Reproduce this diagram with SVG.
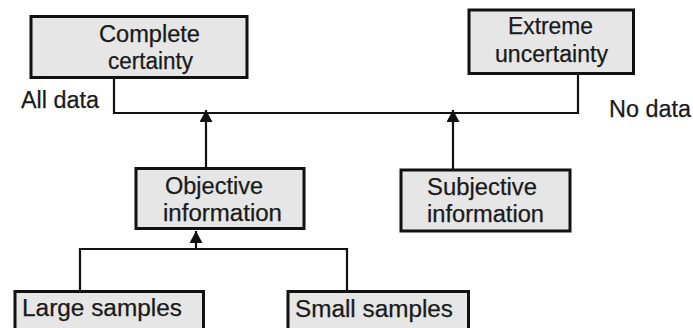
<svg xmlns="http://www.w3.org/2000/svg" width="693" height="328" viewBox="0 0 693 328">
<style>
.box{fill:#e6e6e6;stroke:#111;stroke-width:3}
.t{font-family:"Liberation Sans",Arial,sans-serif;font-size:23px;fill:#1a1a1a;stroke:#1a1a1a;stroke-width:0.25}
.c{fill:none;stroke:#111;stroke-width:2.2}
</style>
<defs>
<marker id="arr" markerUnits="userSpaceOnUse" markerWidth="12" markerHeight="13" refX="12" refY="6.5" orient="auto">
<path d="M0,0 L12,6.5 L0,13 z" fill="#111"/>
</marker>
</defs>
<rect width="693" height="328" fill="#fff"/>
<g id="connectors">
<polyline class="c" points="114,78 114,113 578,113 578,74"/>
<line class="c" x1="206" y1="168" x2="206" y2="110" marker-end="url(#arr)"/>
<line class="c" x1="453" y1="169" x2="453" y2="110" marker-end="url(#arr)"/>
<polyline class="c" points="80,291 80,249 347,249 347,291"/>
<line class="c" x1="196" y1="249" x2="196" y2="231" marker-end="url(#arr)"/>
</g>
<g id="complete">
<rect class="box" x="31" y="16.5" width="216" height="61"/>
<text class="t" x="99" y="41.5" textLength="101" lengthAdjust="spacingAndGlyphs">Complete</text>
<text class="t" x="108" y="69" textLength="85" lengthAdjust="spacingAndGlyphs">certainty</text>
</g>
<g id="alldata">
<text class="t" x="21" y="108" textLength="78" lengthAdjust="spacingAndGlyphs">All data</text>
</g>
<g id="extreme">
<rect class="box" x="469" y="10" width="164.5" height="63.5"/>
<text class="t" x="508" y="34" textLength="85" lengthAdjust="spacingAndGlyphs">Extreme</text>
<text class="t" x="495" y="62" textLength="113" lengthAdjust="spacingAndGlyphs">uncertainty</text>
</g>
<g id="nodata">
<text class="t" x="609" y="117" textLength="82" lengthAdjust="spacingAndGlyphs">No data</text>
</g>
<g id="objective">
<rect class="box" x="136" y="168.5" width="168" height="60"/>
<text class="t" x="165" y="194" textLength="98" lengthAdjust="spacingAndGlyphs">Objective</text>
<text class="t" x="163" y="221" textLength="119" lengthAdjust="spacingAndGlyphs">information</text>
</g>
<g id="subjective">
<rect class="box" x="401" y="170" width="169" height="61"/>
<text class="t" x="427" y="195" textLength="110" lengthAdjust="spacingAndGlyphs">Subjective</text>
<text class="t" x="427" y="222" textLength="117" lengthAdjust="spacingAndGlyphs">information</text>
</g>
<g id="large">
<rect class="box" x="15" y="291.5" width="188.5" height="45"/>
<text class="t" x="22" y="316" textLength="160" lengthAdjust="spacingAndGlyphs">Large samples</text>
</g>
<g id="small">
<rect class="box" x="288" y="291.5" width="180.5" height="45"/>
<text class="t" x="295" y="316.5" textLength="158" lengthAdjust="spacingAndGlyphs">Small samples</text>
</g>
</svg>
